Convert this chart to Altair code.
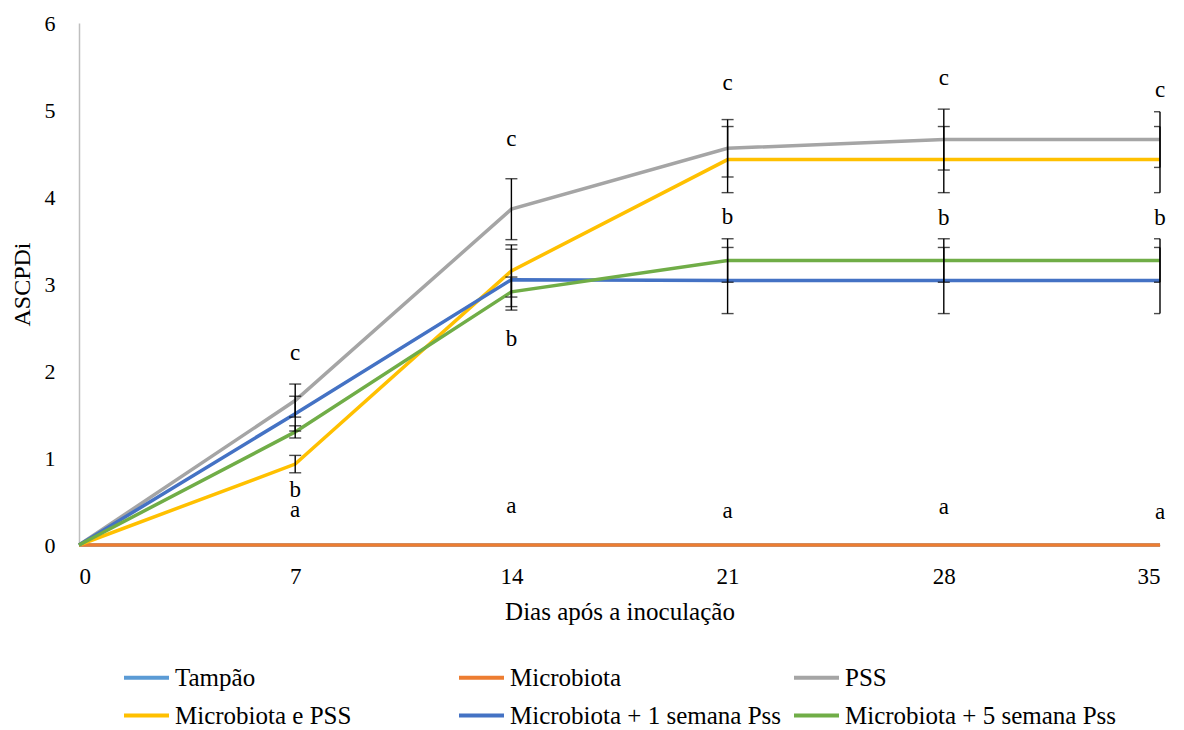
import altair as alt
import pandas as pd

days = [0, 7, 14, 21, 28, 35]
series_names = ["Tampão", "Microbiota", "PSS", "Microbiota  e PSS",
                "Microbiota + 1 semana Pss", "Microbiota + 5 semana Pss"]
colors = ["#5B9BD5", "#ED7D31", "#A5A5A5", "#FFC000", "#4472C4", "#70AD47"]

tampao = [0, 0, 0, 0, 0, 0]
microbiota = [0, 0, 0, 0, 0, 0]
pss = [0, 1.66, 3.86, 4.56, 4.66, 4.66]
mic_pss = [0, 0.93, 3.15, 4.43, 4.43, 4.43]
mic_1sem = [0, 1.51, 3.05, 3.04, 3.04, 3.04]
mic_5sem = [0, 1.30, 2.91, 3.27, 3.27, 3.27]

err_pss = [0, 0.19, 0.35, 0.33, 0.35, 0.32]
err_mic_pss = [0, 0.10, 0.30, 0.38, 0.38, 0.38]
err_mic_1sem = [0, 0.20, 0.35, 0.38, 0.38, 0.38]
err_mic_5sem = [0, 0.07, 0.17, 0.25, 0.25, 0.25]

letter_days = [7, 14, 21, 28, 35]
letter_c_y = [2.21, 4.67, 5.31, 5.37, 5.23]
letter_b_y = [0.63, 2.37, 3.77, 3.76, 3.76]
letter_a_y = [0.40, 0.45, 0.39, 0.44, 0.38]

FONT = "Liberation Serif"

all_series = [tampao, microbiota, pss, mic_pss, mic_1sem, mic_5sem]
rows = []
for si, (name, vals) in enumerate(zip(series_names, all_series)):
    for d, v in zip(days, vals):
        rows.append({"series": name, "day": d, "value": v, "idx": si})
lines_df = pd.DataFrame(rows)

err_rows = []
for name, vals, errs in [(series_names[2], pss, err_pss),
                         (series_names[3], mic_pss, err_mic_pss),
                         (series_names[4], mic_1sem, err_mic_1sem),
                         (series_names[5], mic_5sem, err_mic_5sem)]:
    for d, v, e in zip(days, vals, errs):
        if e > 0:
            err_rows.append({"series": name, "day": d, "lo": v - e, "hi": v + e})
err_df = pd.DataFrame(err_rows)

let_rows = []
for letter, ys in [("c", letter_c_y), ("b", letter_b_y), ("a", letter_a_y)]:
    for d, y in zip(letter_days, ys):
        let_rows.append({"day": d, "y": y, "letter": letter})
let_df = pd.DataFrame(let_rows)

x_scale = alt.Scale(domain=[0, 35], nice=False, zero=False)
y_scale = alt.Scale(domain=[0, 6], nice=False)

x_enc = alt.X("day:Q", scale=x_scale,
              axis=alt.Axis(values=days, title="Dias após a inoculação", grid=False,
                            ticks=False, domainColor="#BFBFBF", domainWidth=1.5,
                            format="d",
                            labelFont=FONT, labelFontSize=23, labelColor="black",
                            labelPadding=20, titleFont=FONT, titleFontSize=25,
                            titleFontWeight="normal", titleColor="black", titlePadding=11))
y_enc = alt.Y("value:Q", scale=y_scale,
              axis=alt.Axis(values=[0, 1, 2, 3, 4, 5, 6], title="ASCPDi", grid=False,
                            ticks=False, domainColor="#BFBFBF", domainWidth=1.5,
                            format="d",
                            labelFont=FONT, labelFontSize=22, labelColor="black",
                            labelPadding=24, titleFont=FONT, titleFontSize=24,
                            titleFontWeight="normal", titleColor="black", titlePadding=10))

lines = alt.Chart(lines_df).mark_line(strokeWidth=3.5).encode(
    x=x_enc,
    y=y_enc,
    color=alt.Color("series:N",
                    scale=alt.Scale(domain=series_names, range=colors),
                    sort=series_names,
                    legend=alt.Legend(orient="none", legendX=43, legendY=630,
                                      direction="horizontal", columns=3, title=None,
                                      symbolType="stroke", symbolSize=2025,
                                      symbolStrokeWidth=4, labelFont=FONT,
                                      labelFontSize=25, labelColor="black",
                                      gridAlign="all", columnPadding=4,
                                      rowPadding=0, labelOffset=4, labelLimit=400)),
    order=alt.Order("idx:Q"),
)

err_rule = alt.Chart(err_df).mark_rule(color="black", strokeWidth=1.4).encode(
    x="day:Q", y="lo:Q", y2="hi:Q")
err_lo = alt.Chart(err_df).mark_tick(color="black", orient="horizontal", size=12,
                                     thickness=1.4, clip=True).encode(x="day:Q", y="lo:Q")
err_hi = alt.Chart(err_df).mark_tick(color="black", orient="horizontal", size=12,
                                     thickness=1.4, clip=True).encode(x="day:Q", y="hi:Q")

letters = alt.Chart(let_df).mark_text(font=FONT, fontSize=23, color="black",
                                      baseline="middle", align="center").encode(
    x="day:Q", y="y:Q", text="letter:N")

chart = alt.layer(lines, err_rule, err_lo, err_hi, letters).properties(
    width=1081, height=522,
    autosize=alt.AutoSizeParams(type="none"),
    padding={"left": 71, "top": 15, "right": 10, "bottom": 185},
).configure_view(stroke=None)

chart.save("out.html", embed_options={"renderer": "svg", "actions": False})
